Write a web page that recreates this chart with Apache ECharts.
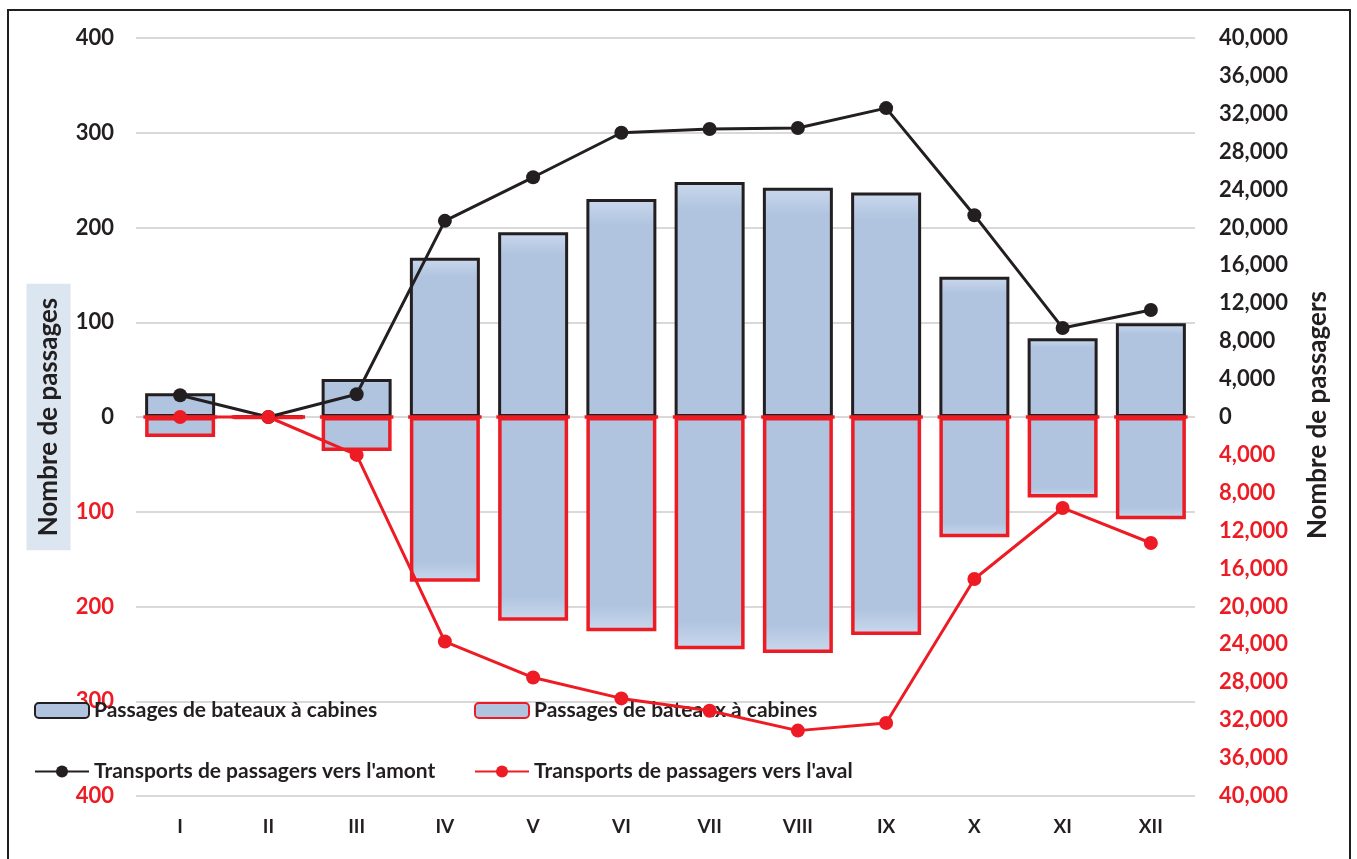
<!DOCTYPE html>
<html>
<head>
<meta charset="utf-8">
<script src="https://cdn.jsdelivr.net/npm/echarts@6/dist/echarts.min.js"></script>
<style>
html,body{margin:0;padding:0;background:#fff;}
#c{width:1357px;height:859px;}
</style>
</head>
<body>
<div id="c"></div>
<script>
const months = ['I','II','III','IV','V','VI','VII','VIII','IX','X','XI','XII'];
// Passages de bateaux à cabines (amont, positive) and (aval, negative)
const passagesAmont = [25, 1, 40, 168, 195, 230, 248, 242, 237, 148, 83, 99];
const passagesAval = [-21, -1, -36, -174, -215, -226, -245, -249, -230, -127, -85, -108];
// Transports de passagers
const passagersAmont = [2300, 0, 2400, 20700, 25300, 30000, 30400, 30500, 32600, 21300, 9400, 11300];
const passagersAval = [0, 0, -4000, -23700, -27500, -29700, -31000, -33100, -32300, -17100, -9600, -13300];

const RED = '#ed1c24', BLACK = '#231f20', BLUE = '#b0c4e0', LIGHT = '#cad8ec';
const FONT = 'Lato, "Open Sans", sans-serif';
const NAME_BAR = 'Passages de bateaux à cabines';
const NAME_BAR2 = 'Passages de bateaux à cabines (aval)';
const NAME_UP = "Transports de passagers vers l'amont";
const NAME_DN = "Transports de passagers vers l'aval";
const LEFT_NAME = 'Nombre de passages';
const RIGHT_NAME = 'Nombre de passagers';
const BAR_W = 70;

const chart = echarts.init(document.getElementById('c'));
const labelStyle = {fontFamily: FONT, fontWeight: 'bold', fontSize: 22};
const legendText = {fontFamily: FONT, fontWeight: 'bold', fontSize: 21, color: BLACK};
chart.setOption({
  animation: false,
  backgroundColor: '#fff',
  graphic: [{
    type: 'rect', shape: {x: 8, y: 10, width: 1342, height: 870},
    style: {fill: 'none', stroke: BLACK, lineWidth: 2}, z: -1
  }, {
    type: 'text', x: 48.5, y: 417, rotation: Math.PI / 2,
    style: {text: LEFT_NAME, fontFamily: FONT, fontWeight: 'bold', fontSize: 26, fill: BLACK,
      align: 'center', verticalAlign: 'middle', backgroundColor: '#dce6f1', padding: [10, 14, 8, 14]}
  }, {
    type: 'text', x: 1318, y: 415, rotation: Math.PI / 2,
    style: {text: RIGHT_NAME, fontFamily: FONT, fontWeight: 'bold', fontSize: 26, fill: BLACK,
      align: 'center', verticalAlign: 'middle'}
  }],
  grid: {left: 136, right: 162, top: 38, bottom: 63},
  legend: [{
    left: 34, top: 700, orient: 'vertical', itemGap: 40, padding: 0,
    itemWidth: 54, itemHeight: 15, itemTextGap: 6,
    data: [NAME_BAR, NAME_UP],
    textStyle: legendText,
    formatter: n => n.replace(' (aval)', '')
  }, {
    left: 474, top: 700, orient: 'vertical', itemGap: 40, padding: 0,
    itemWidth: 54, itemHeight: 15, itemTextGap: 6,
    data: [NAME_BAR2, NAME_DN],
    textStyle: legendText,
    formatter: n => n.replace(' (aval)', '')
  }],
  xAxis: {
    type: 'category', data: months,
    axisLine: {show: false}, axisTick: {show: false},
    axisLabel: {fontFamily: FONT, fontWeight: 'bold', fontSize: 19, color: BLACK, margin: 21}
  },
  yAxis: [{
    type: 'value', min: -400, max: 400, interval: 100,
    axisLine: {show: false}, axisTick: {show: false},
    splitLine: {lineStyle: {color: '#d9d9d9', width: 2}},
    axisLabel: {
      margin: 22,
      formatter: v => v < 0 ? '{r|' + (-v) + '}' : '{k|' + v + '}',
      rich: {r: Object.assign({color: RED}, labelStyle), k: Object.assign({color: BLACK}, labelStyle)}
    }
  }, {
    type: 'value', min: -40000, max: 40000, interval: 4000, position: 'right',
    axisLine: {show: false}, axisTick: {show: false}, splitLine: {show: false},
    axisLabel: {
      margin: 24,
      formatter: v => {
        const s = Math.abs(v).toLocaleString('en-US');
        return v < 0 ? '{r|' + s + '}' : '{k|' + s + '}';
      },
      rich: {r: Object.assign({color: RED}, labelStyle), k: Object.assign({color: BLACK}, labelStyle)}
    }
  }],
  series: [{
    name: NAME_BAR, type: 'bar', yAxisIndex: 0, data: passagesAmont, z: 2,
    barWidth: BAR_W, barGap: '-100%',
    itemStyle: {
      color: new echarts.graphic.LinearGradient(0, 0, 0, 1, [
        {offset: 0, color: LIGHT}, {offset: 0.12, color: BLUE}, {offset: 1, color: BLUE}]),
      borderColor: BLACK, borderWidth: 3
    }
  }, {
    name: NAME_BAR2, type: 'bar', yAxisIndex: 0, data: passagesAval, z: 3,
    barWidth: BAR_W, barGap: '-100%',
    itemStyle: {
      color: new echarts.graphic.LinearGradient(0, 0, 0, 1, [
        {offset: 0, color: BLUE}, {offset: 0.88, color: BLUE}, {offset: 1, color: LIGHT}]),
      borderColor: RED, borderWidth: 3.5
    }
  }, {
    // red top edge of the "aval" bars, drawn at the zero line above the black bars
    name: 'edge', type: 'custom', yAxisIndex: 0, z: 4, silent: true,
    data: passagesAval.map((v, i) => [i, v]),
    renderItem: (params, api) => {
      const p = api.coord([api.value(0), 0]);
      return {
        type: 'line',
        shape: {x1: p[0] - BAR_W / 2 - 1.75, y1: p[1], x2: p[0] + BAR_W / 2 + 1.75, y2: p[1]},
        style: {stroke: RED, lineWidth: 3.5}
      };
    }
  }, {
    name: NAME_UP, type: 'line', yAxisIndex: 1, data: passagersAmont, z: 11,
    symbol: 'circle', symbolSize: 14,
    lineStyle: {color: BLACK, width: 3}, itemStyle: {color: BLACK}
  }, {
    name: NAME_DN, type: 'line', yAxisIndex: 1, data: passagersAval, z: 12,
    symbol: 'circle', symbolSize: 14,
    lineStyle: {color: RED, width: 3}, itemStyle: {color: RED}
  }]
});
</script>
</body>
</html>
